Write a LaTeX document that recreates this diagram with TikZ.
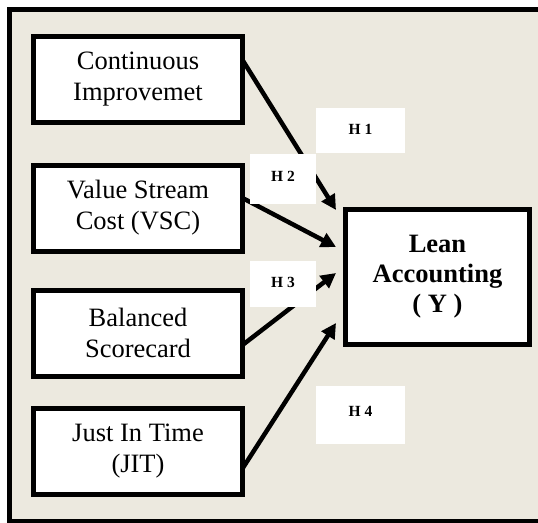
\documentclass[tikz,border=0pt]{standalone}
\usepackage{fontspec}
\setmainfont{Liberation Serif}
\usetikzlibrary{arrows.meta,calc}
\definecolor{bg}{RGB}{236,233,223}
\begin{document}
\begin{tikzpicture}[x=1pt,y=-1pt,
  box/.style={draw=black, line width=5pt, fill=white, outer sep=0pt, inner sep=0pt,
    align=center, font=\fontsize{26.5}{31}\selectfont},
  srcbox/.style={box, minimum width=209pt, minimum height=86pt},
  hyp/.style={fill=white, inner sep=0pt, font=\fontsize{15.5}{17}\selectfont\bfseries},
  conn/.style={line width=4.5pt, -{Triangle[length=15pt,width=15pt]}}]
\useasboundingbox (0,0) rectangle (538,522);
\clip (0,0) rectangle (538,522);
\fill[white] (0,0) rectangle (538,522);
\draw[line width=5pt, fill=bg] (9.5,9.5) rectangle (560,521);

\node[srcbox] (b1) at (138,79.5) {Continuous\\Improvemet};
\node[srcbox] (b2) at (138,208) {Value Stream\\Cost (VSC)};
\node[srcbox] (b3) at (138,333) {Balanced\\Scorecard};
\node[srcbox] (b4) at (138,451.5) {Just In Time\\(JIT)};
\node[box, minimum width=184pt, minimum height=135pt, font=\fontsize{26.5}{30}\selectfont\bfseries]
  (lean) at (437.5,277) {Lean\\Accounting\\( Y )};

\coordinate (t1) at ($(lean.west)+(-9.5,-67)$);
\coordinate (t2) at ($(lean.west)+(-9.5,-30)$);
\coordinate (t3) at ($(lean.west)+(-9.5,-4)$);
\coordinate (t4) at ($(lean.west)+(-9.5,46)$);

\draw[conn] ($(b1.east)+(0,-19.5)$) -- (t1);
\draw[conn] ($(b2.east)+(0,-10)$) -- (t2);
\draw[conn] ($(b3.east)+(0,12)$) -- (t3);
\draw[conn] ($(b4.east)+(0,17)$) -- (t4);

\node[hyp, minimum width=89pt, minimum height=45pt] (h1) at (360.5,130.5) {\raisebox{1.5pt}{H 1}};
\node[hyp, minimum width=66pt, minimum height=50pt] (h2) at (283,179) {\raisebox{5pt}{H 2}};
\node[hyp, minimum width=66pt, minimum height=46pt] (h3) at (283,284) {\raisebox{3pt}{H 3}};
\node[hyp, minimum width=89pt, minimum height=58pt] (h4) at (360.5,415) {\raisebox{8pt}{H 4}};
\end{tikzpicture}
\end{document}
